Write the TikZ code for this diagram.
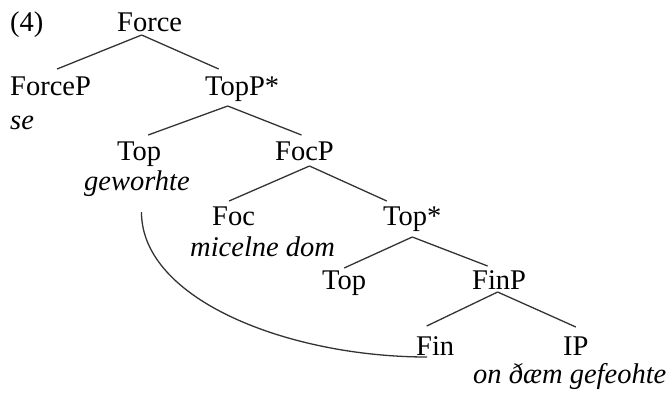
\documentclass[tikz,border=0pt]{standalone}
\usepackage{fontspec}
\setmainfont{Liberation Serif}
\usepackage{tikz}

\begin{document}
\begin{tikzpicture}[x=1pt,y=-1pt]
            \tikzstyle{word}=[inner sep=0pt,anchor=base west,font=\fontsize{28.5}{32}\selectfont]
            \tikzstyle{gloss}=[word,font=\fontsize{28.5}{32}\selectfont\itshape]
            \tikzstyle{branch}=[draw=black!80,line width=1.3pt]
            \useasboundingbox (0,0) rectangle (672,392);

            \node[word] (ex) at (10,31) {(4)};
            \node[word] (force) at (117,31) {Force};
            \node[word] (forcep) at (10,95) {ForceP};
            \node[gloss] (se) at (10,129) {se};
            \node[word] (topp) at (205,95) {TopP*};
            \node[word] (top1) at (117,160) {Top};
            \node[gloss] (geworhte) at (84,190) {geworhte};
            \node[word] (focp) at (275,160) {FocP};
            \node[word] (foc) at (212,225) {Foc};
            \node[gloss] (micelne) at (190,256) {micelne dom};
            \node[word] (tops) at (383,225) {Top*};
            \node[word] (top2) at (322,289) {Top};
            \node[word] (finp) at (472,289) {FinP};
            \node[word] (fin) at (416,355) {Fin};
            \node[word] (ip) at (563,355) {IP};
            \node[gloss] (ondaem) at (473,383) {on ðæm gefeohte};

            \draw[branch] ([xshift=-8pt,yshift=-4pt]force.base) -- ([xshift=6.5pt,yshift=26pt]forcep.base);
            \draw[branch] ([xshift=-8pt,yshift=-4pt]force.base) -- ([xshift=-23.5pt,yshift=26pt]topp.base);
            \draw[branch] ([xshift=-14.5pt,yshift=-11pt]topp.base) -- ([xshift=9pt,yshift=25pt]top1.base);
            \draw[branch] ([xshift=-14.5pt,yshift=-11pt]topp.base) -- ([xshift=-3pt,yshift=25pt]focp.base);
            \draw[branch] ([xshift=5pt,yshift=-6pt]focp.base) -- ([xshift=-4.5pt,yshift=24pt]foc.base);
            \draw[branch] ([xshift=5pt,yshift=-6pt]focp.base) -- ([xshift=-25.5pt,yshift=24pt]tops.base);
            \draw[branch] ([yshift=-12pt]tops.base) -- ([yshift=21pt]top2.base);
            \draw[branch] ([yshift=-12pt]tops.base) -- ([xshift=-11.5pt,yshift=23pt]finp.base);
            \draw[branch] ([xshift=-1.5pt,yshift=-3pt]finp.base) -- ([xshift=-8.5pt,yshift=29pt]fin.base);
            \draw[branch] ([xshift=-1.5pt,yshift=-3pt]finp.base) -- ([yshift=28pt]ip.base);

            \draw[branch] ([xshift=4.5pt,yshift=-22pt]geworhte.base) .. controls +(0,88) and +(-138,0) .. ([xshift=-8pt,yshift=-2pt]fin.base);
        \end{tikzpicture}
\end{document}
